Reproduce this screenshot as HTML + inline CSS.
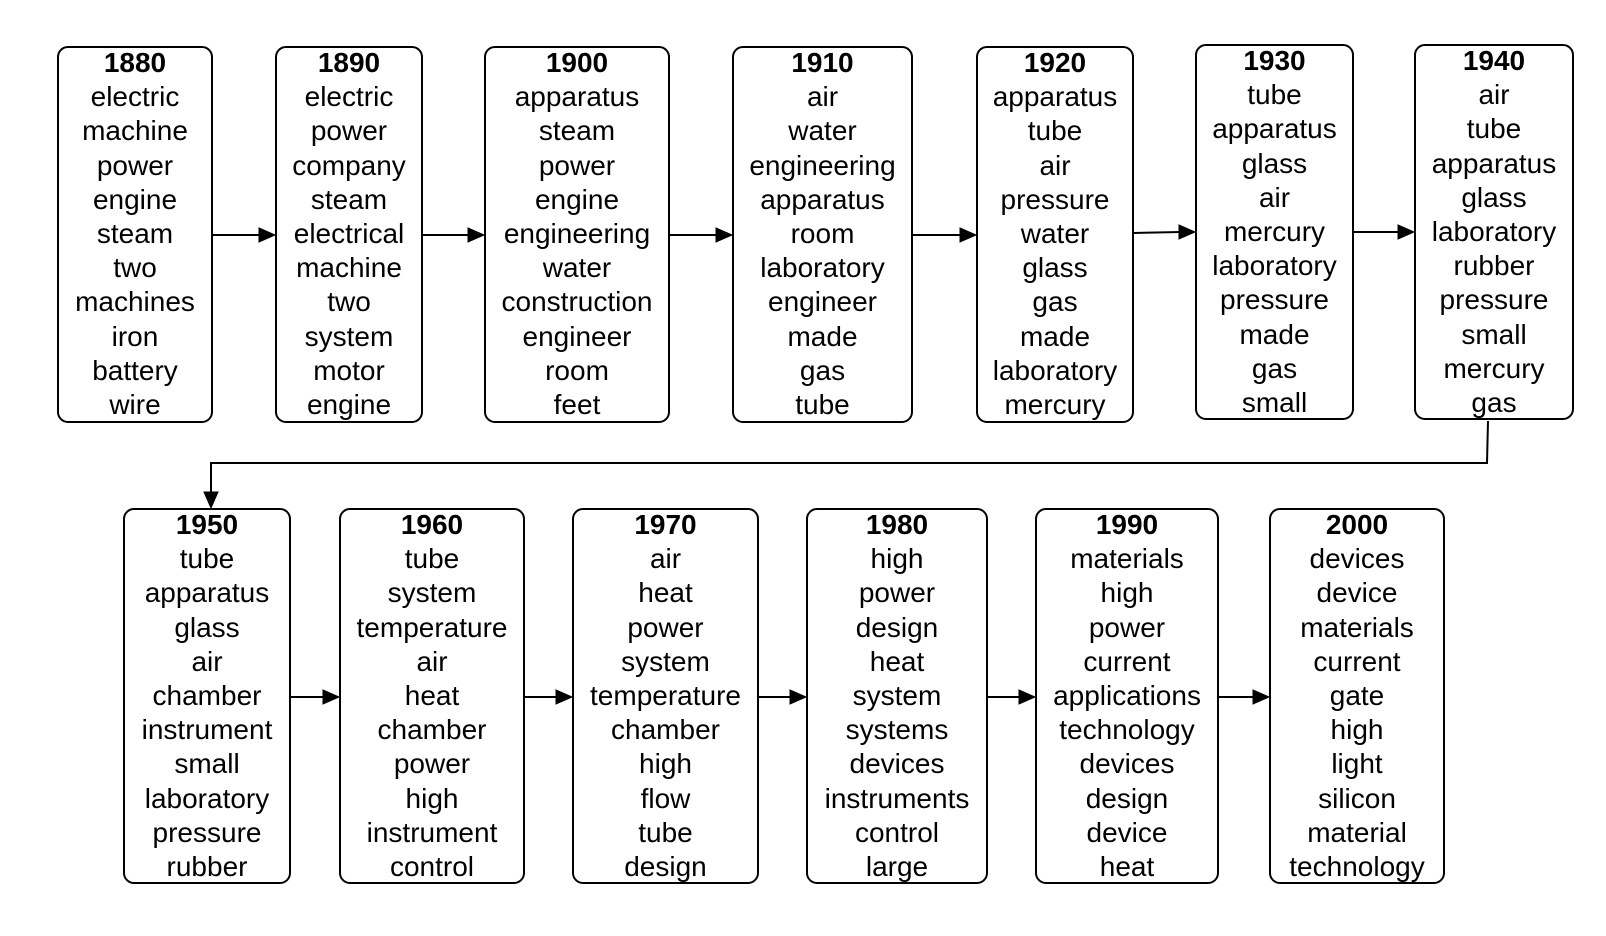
<!DOCTYPE html>
<html><head><meta charset="utf-8"><style>
body{margin:0;background:#fff;width:1606px;height:936px;position:relative;overflow:hidden;font-family:"Liberation Sans",Arial,sans-serif;}
.b{position:absolute;box-sizing:border-box;border:2px solid #000;border-radius:11px;text-align:center;font-size:28px;line-height:34.2px;color:#000;padding-top:0px;}
.b div{margin-top:-2px;}
.b b{display:block;}
svg{position:absolute;left:0;top:0;}
</style></head><body>
<svg width="1606" height="936">
<g stroke="#000" stroke-width="2" fill="none">
<line x1="212" y1="235" x2="262" y2="235"/><path d="M259,228 L275,235 L259,242z" fill="#000" stroke-width="1"/>
<line x1="422" y1="235" x2="470" y2="235"/><path d="M468,228 L484,235 L468,242z" fill="#000" stroke-width="1"/>
<line x1="670" y1="235" x2="718" y2="235"/><path d="M716,228 L732,235 L716,242z" fill="#000" stroke-width="1"/>
<line x1="913" y1="235" x2="962" y2="235"/><path d="M960,228 L976,235 L960,242z" fill="#000" stroke-width="1"/>
<line x1="1133" y1="233" x2="1181" y2="232"/><path d="M1179,225 L1195,232 L1179,239z" fill="#000" stroke-width="1"/>
<line x1="1353" y1="232" x2="1400" y2="232"/><path d="M1398,225 L1414,232 L1398,239z" fill="#000" stroke-width="1"/>
<polyline points="1488,421 1487,463 211,463 211,494"/><path d="M204,492 L211,508 L218,492z" fill="#000" stroke-width="1"/>
<line x1="291" y1="697" x2="325" y2="697"/><path d="M323,690 L339,697 L323,704z" fill="#000" stroke-width="1"/>
<line x1="525" y1="697" x2="558" y2="697"/><path d="M556,690 L572,697 L556,704z" fill="#000" stroke-width="1"/>
<line x1="759" y1="697" x2="792" y2="697"/><path d="M790,690 L806,697 L790,704z" fill="#000" stroke-width="1"/>
<line x1="988" y1="697" x2="1021" y2="697"/><path d="M1019,690 L1035,697 L1019,704z" fill="#000" stroke-width="1"/>
<line x1="1219" y1="697" x2="1255" y2="697"/><path d="M1253,690 L1269,697 L1253,704z" fill="#000" stroke-width="1"/>
</g></svg>
<div class="b" style="left:57px;top:46px;width:156px;height:377px"><div><b>1880</b>electric<br>machine<br>power<br>engine<br>steam<br>two<br>machines<br>iron<br>battery<br>wire</div></div>
<div class="b" style="left:275px;top:46px;width:148px;height:377px"><div><b>1890</b>electric<br>power<br>company<br>steam<br>electrical<br>machine<br>two<br>system<br>motor<br>engine</div></div>
<div class="b" style="left:484px;top:46px;width:186px;height:377px"><div><b>1900</b>apparatus<br>steam<br>power<br>engine<br>engineering<br>water<br>construction<br>engineer<br>room<br>feet</div></div>
<div class="b" style="left:732px;top:46px;width:181px;height:377px"><div><b>1910</b>air<br>water<br>engineering<br>apparatus<br>room<br>laboratory<br>engineer<br>made<br>gas<br>tube</div></div>
<div class="b" style="left:976px;top:46px;width:158px;height:377px"><div><b>1920</b>apparatus<br>tube<br>air<br>pressure<br>water<br>glass<br>gas<br>made<br>laboratory<br>mercury</div></div>
<div class="b" style="left:1195px;top:44px;width:159px;height:376px"><div><b>1930</b>tube<br>apparatus<br>glass<br>air<br>mercury<br>laboratory<br>pressure<br>made<br>gas<br>small</div></div>
<div class="b" style="left:1414px;top:44px;width:160px;height:376px"><div><b>1940</b>air<br>tube<br>apparatus<br>glass<br>laboratory<br>rubber<br>pressure<br>small<br>mercury<br>gas</div></div>
<div class="b" style="left:123px;top:508px;width:168px;height:376px"><div><b>1950</b>tube<br>apparatus<br>glass<br>air<br>chamber<br>instrument<br>small<br>laboratory<br>pressure<br>rubber</div></div>
<div class="b" style="left:339px;top:508px;width:186px;height:376px"><div><b>1960</b>tube<br>system<br>temperature<br>air<br>heat<br>chamber<br>power<br>high<br>instrument<br>control</div></div>
<div class="b" style="left:572px;top:508px;width:187px;height:376px"><div><b>1970</b>air<br>heat<br>power<br>system<br>temperature<br>chamber<br>high<br>flow<br>tube<br>design</div></div>
<div class="b" style="left:806px;top:508px;width:182px;height:376px"><div><b>1980</b>high<br>power<br>design<br>heat<br>system<br>systems<br>devices<br>instruments<br>control<br>large</div></div>
<div class="b" style="left:1035px;top:508px;width:184px;height:376px"><div><b>1990</b>materials<br>high<br>power<br>current<br>applications<br>technology<br>devices<br>design<br>device<br>heat</div></div>
<div class="b" style="left:1269px;top:508px;width:176px;height:376px"><div><b>2000</b>devices<br>device<br>materials<br>current<br>gate<br>high<br>light<br>silicon<br>material<br>technology</div></div>
</body></html>
